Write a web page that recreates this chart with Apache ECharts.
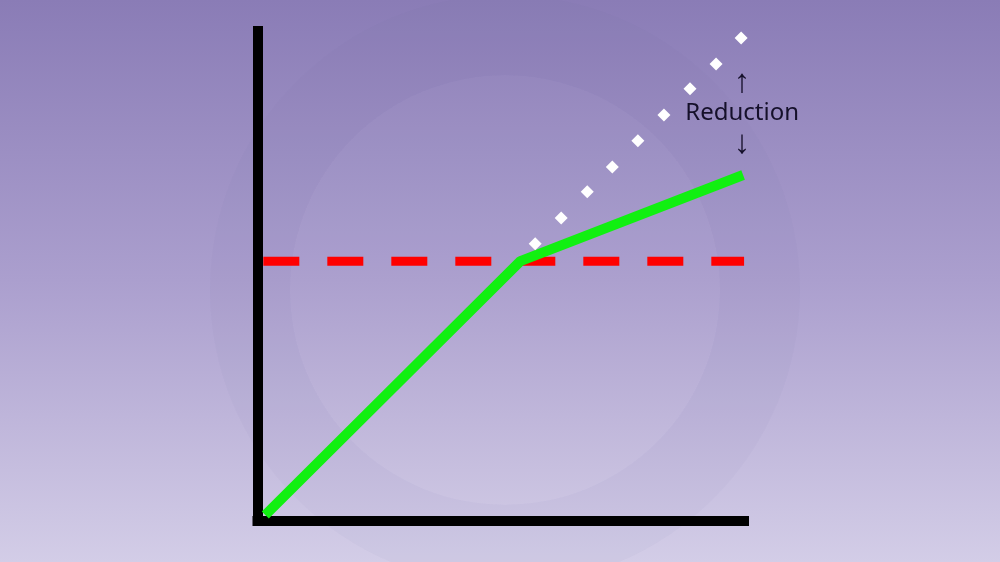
<!DOCTYPE html>
<html><head><meta charset="utf-8">
<script src="https://cdn.jsdelivr.net/npm/echarts@6/dist/echarts.min.js"></script>
<style>html,body{margin:0;padding:0;}#c{width:1000px;height:562px;}</style>
</head><body><div id="c"></div>
<script>
// Data (axis units 0..10)
const greenX = [0.16, 5.35, 9.88];
const greenY = [0.12, 5.25, 6.99];
const limitY = 5.25;
const limitX = [0.12, 9.9];
const dotX = [5.65, 6.18, 6.71, 7.22, 7.74, 8.27, 8.80, 9.33, 9.84];
const dotY = [5.60, 6.12, 6.65, 7.15, 7.68, 8.20, 8.73, 9.23, 9.76];
const labelPos = [9.86, 8.24];
const labelText = '{a|↑}\n{b|Reduction}\n{a|↓}';

const chart = echarts.init(document.getElementById('c'));
chart.setOption({
  animation: false,
  backgroundColor: new echarts.graphic.LinearGradient(0,0,0,1,[
    {offset:0,color:'#8a7cb6'},{offset:0.5,color:'#ab9fce'},{offset:1,color:'#d3cde7'}]),
  graphic: [
    {type:'ring', shape:{cx:505, cy:290, r:295, r0:215}, style:{fill:'rgba(110,90,150,0.04)'}, silent:true, z:-10},
    {type:'ring', shape:{cx:505, cy:290, r:215, r0:0}, style:{fill:'rgba(255,255,255,0.02)'}, silent:true, z:-10}
  ],
  grid: {left:252.5, right:251, top:26, bottom:41},
  xAxis: {type:'value', min:-0.1, max:10, axisLine:{lineStyle:{color:'#000', width:10, cap:'butt'}}, axisTick:{show:false}, axisLabel:{show:false}, splitLine:{show:false}},
  yAxis: {type:'value', min:0, max:10, axisLine:{show:true, onZero:true, lineStyle:{color:'#000', width:10, cap:'butt'}}, axisTick:{show:false}, axisLabel:{show:false}, splitLine:{show:false}},
  series: [
    {type:'line', data: limitX.map(x=>[x, limitY]), symbol:'none', lineStyle:{color:'#ff0000', width:9, type:[36,28], cap:'butt'}, z:2},
    {type:'line', data: greenX.map((x,i)=>[x, greenY[i]]), symbol:'none', lineStyle:{color:'#11f011', width:10, cap:'butt'}, z:3},
    {type:'scatter', data: dotX.map((x,i)=>[x, dotY[i]]), symbol:'diamond', symbolSize:13, itemStyle:{color:'#ffffff', opacity:1}, z:4},
    {type:'scatter', data:[labelPos], symbolSize:0, itemStyle:{opacity:1}, z:5,
      label:{show:true, position:'inside', formatter:labelText, color:'#15102a', fontFamily:'Noto Sans', align:'center', verticalAlign:'middle',
        rich:{a:{fontSize:33, lineHeight:31, color:'#15102a', fontFamily:'Liberation Sans'}, b:{fontSize:24, lineHeight:30, color:'#15102a', fontFamily:'Noto Sans'}}}}
  ]
});
</script></body></html>
